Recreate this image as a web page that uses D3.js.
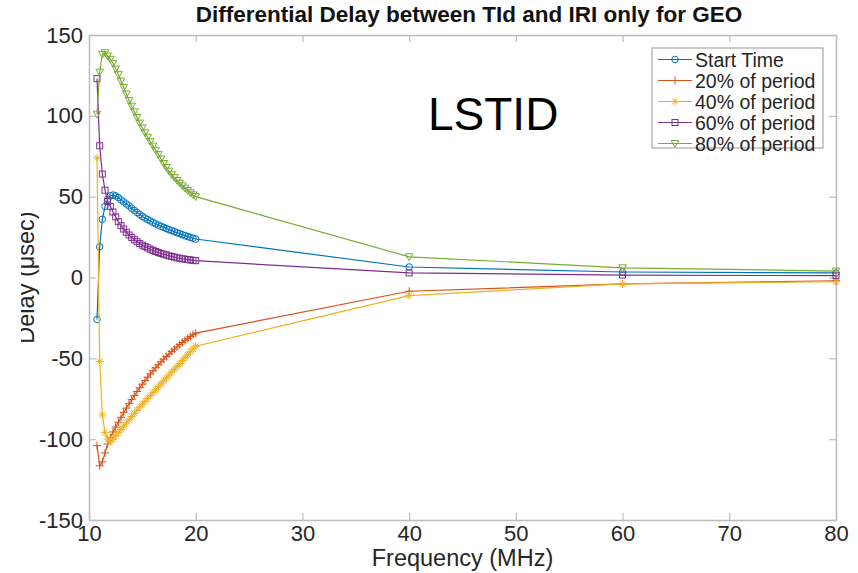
<!DOCTYPE html>
<html>
<head>
<meta charset="utf-8">
<script src="https://cdn.jsdelivr.net/npm/d3@7.9.0/dist/d3.min.js"></script>
<style>
  body { margin: 0; background: #fff; }
  svg { display: block; font-family: "Liberation Sans", Arial, Helvetica, sans-serif; }
</style>
</head>
<body>
<svg id="chart" width="858" height="573"></svg>
<script>
// frequencies (MHz) and delays (usec)
const freqs = [10.75, 11, 11.25, 11.5, 11.75, 12, 12.25, 12.5, 12.75, 13, 13.25, 13.5, 13.75, 14,
  14.25, 14.5, 14.75, 15, 15.25, 15.5, 15.75, 16, 16.25, 16.5, 16.75, 17, 17.25, 17.5, 17.75, 18,
  18.25, 18.5, 18.75, 19, 19.25, 19.5, 19.75, 20, 40, 60, 80];

const startTime = [-26, 19, 36, 44, 48.5, 50.5, 51, 50.5, 49.5, 48, 46.8, 45.5, 44.3, 42.8,
  41.5, 40.2, 39, 37.8, 36.8, 35.8, 35, 34, 33.2, 32.4, 31.6, 31, 30.3, 29.6, 29, 28.4,
  27.7, 27.1, 26.5, 25.9, 25.3, 24.8, 24.3, 23.8, 6.5, 3.4, 2.8];

const period20 = [-104, -116.5, -114, -108.5, -103, -99, -95.5, -92.5, -89.5, -86.5, -83.5, -80.8, -78, -75.5,
  -73, -70.5, -68.2, -66, -63.8, -61.7, -59.7, -57.7, -55.8, -54, -52.2, -50.5, -48.9, -47.3, -45.8, -44.3,
  -42.9, -41.5, -40.2, -38.9, -37.7, -36.5, -35.4, -34.4, -8.5, -4, -2];

const period40 = [74, -52, -85, -96, -100, -101.5, -100, -98, -96, -94, -92, -90, -88, -86,
  -84, -82, -80.2, -78.4, -76.6, -74.8, -73, -71.2, -69.4, -67.6, -65.8, -64, -62.2, -60.4, -58.6, -56.8,
  -55, -53.2, -51.4, -49.6, -47.8, -46, -44.2, -42.5, -11.2, -4, -2.6];

const period60 = [123, 81.5, 64, 54, 47, 44, 40.5, 37.5, 34.5, 32, 30, 28, 26.3, 24.8,
  23.4, 22.2, 21, 20, 19.1, 18.3, 17.5, 16.8, 16.1, 15.5, 14.9, 14.4, 13.9, 13.4, 13, 12.6,
  12.2, 11.9, 11.6, 11.3, 11.1, 10.9, 10.6, 10.4, 2.8, 1.5, 1.1];

const period80 = [101, 127, 138, 139, 137, 135, 132.5, 129, 125.5, 121.5, 117.5, 113.5, 109.5, 106,
  102.5, 99, 95.5, 92.5, 89.5, 86.8, 84, 81.3, 78.7, 76, 73.3, 70.5, 68, 65.8, 63.6, 61.8,
  60, 58.3, 56.7, 55.2, 53.8, 52.4, 51.1, 50, 12.8, 6, 4];

const seriesNames = ['Start Time', '20% of period', '40% of period', '60% of period', '80% of period'];
const seriesValues = [startTime, period20, period40, period60, period80];
const seriesColors = ['#0072BD', '#D95319', '#EDB120', '#7E2F8E', '#77AC30'];
const seriesMarkers = ['circle', 'plus', 'star', 'square', 'triangle'];

const xTicks = [10, 20, 30, 40, 50, 60, 70, 80];
const yTicks = [-150, -100, -50, 0, 50, 100, 150];

const svg = d3.select('#chart');
const plotLeft = 89, plotRight = 836, plotTop = 35, plotBottom = 520;

let x = d3.scaleLinear().domain([10, 80]).range([plotLeft, plotRight]);
let y = d3.scaleLinear().domain([-150, 150]).range([plotBottom, plotTop]);

const textColor = '#262626';
const frameColor = '#bdbdbd';

// axes with ticks pointing inward, mirrored on top/right like matlab's box on
function styleAxis(g) {
  g.select('.domain').attr('stroke', frameColor).attr('stroke-width', 1.5);
  g.selectAll('.tick line').attr('stroke', frameColor).attr('stroke-width', 1.2);
  g.selectAll('.tick text').attr('fill', textColor).attr('font-size', 22);
}

// plain hyphen for negatives, like the figure
const plainFmt = (d) => String(d);

svg.append('g')
  .attr('transform', `translate(0,${plotBottom})`)
  .call(d3.axisBottom(x).tickValues(xTicks).tickSizeInner(-7).tickSizeOuter(0).tickPadding(5).tickFormat(plainFmt))
  .call(styleAxis);

svg.append('g')
  .attr('transform', `translate(0,${plotTop})`)
  .call(d3.axisTop(x).tickValues(xTicks).tickSizeInner(-7).tickSizeOuter(0).tickFormat(''))
  .call(styleAxis);

svg.append('g')
  .attr('transform', `translate(${plotLeft},0)`)
  .call(d3.axisLeft(y).tickValues(yTicks).tickSizeInner(-7).tickSizeOuter(0).tickPadding(6).tickFormat(plainFmt))
  .call(styleAxis);

svg.append('g')
  .attr('transform', `translate(${plotRight},0)`)
  .call(d3.axisRight(y).tickValues(yTicks).tickSizeInner(-7).tickSizeOuter(0).tickFormat(''))
  .call(styleAxis);

// marker shapes
function drawMarker(g, type, cx, cy, color) {
  if (type === 'circle') {
    g.append('circle').attr('cx', cx).attr('cy', cy).attr('r', 3.3)
      .attr('fill', 'none').attr('stroke', color).attr('stroke-width', 1);
  } else if (type === 'square') {
    g.append('rect').attr('x', cx - 3).attr('y', cy - 3).attr('width', 6).attr('height', 6)
      .attr('fill', 'none').attr('stroke', color).attr('stroke-width', 1);
  } else if (type === 'triangle') {
    g.append('path').attr('d', `M${cx - 3.8},${cy - 3}L${cx + 3.8},${cy - 3}L${cx},${cy + 3.8}Z`)
      .attr('fill', 'none').attr('stroke', color).attr('stroke-width', 1);
  } else {
    let d = `M${cx - 4},${cy}H${cx + 4}M${cx},${cy - 4}V${cy + 4}`;
    if (type === 'star') d += `M${cx - 3},${cy - 3}L${cx + 3},${cy + 3}M${cx - 3},${cy + 3}L${cx + 3},${cy - 3}`;
    g.append('path').attr('d', d).attr('fill', 'none').attr('stroke', color).attr('stroke-width', 1);
  }
}

let line = d3.line().x((d) => x(d[0])).y((d) => y(d[1]));

seriesValues.forEach((vals, idx) => {
  let pts = freqs.map((f, i) => [f, vals[i]]);
  let g = svg.append('g');
  g.append('path')
    .attr('d', line(pts))
    .attr('fill', 'none')
    .attr('stroke', seriesColors[idx])
    .attr('stroke-width', 1.2);
  pts.forEach((p) => drawMarker(g, seriesMarkers[idx], x(p[0]), y(p[1]), seriesColors[idx]));
});

// title and axis labels
svg.append('text')
  .attr('x', 469).attr('y', 22)
  .attr('text-anchor', 'middle')
  .attr('font-size', 22.5).attr('font-weight', 'bold').attr('fill', '#111')
  .text('Differential Delay between TId and IRI only for GEO');

svg.append('text')
  .attr('x', (plotLeft + plotRight) / 2).attr('y', 566)
  .attr('text-anchor', 'middle')
  .attr('font-size', 23.5).attr('fill', textColor)
  .text('Frequency (MHz)');

// the y label is cut at the left edge in the figure
svg.append('clipPath').attr('id', 'ylabClip')
  .append('rect').attr('x', 21).attr('y', 0).attr('width', 100).attr('height', 573);

svg.append('g')
  .attr('clip-path', 'url(#ylabClip)')
  .append('text')
  .attr('transform', `translate(34,${(plotTop + plotBottom) / 2}) rotate(-90)`)
  .attr('text-anchor', 'middle')
  .attr('font-size', 23.5).attr('fill', textColor)
  .text('Delay (\u03bcsec)');

svg.append('text')
  .attr('x', 428).attr('y', 130)
  .attr('font-size', 46).attr('fill', '#000')
  .text('LSTID');

// legend
let legend = svg.append('g');
legend.append('rect')
  .attr('x', 652).attr('y', 48).attr('width', 171).attr('height', 100)
  .attr('fill', '#fff').attr('stroke', '#a8a8a8').attr('stroke-width', 1.2);

seriesNames.forEach((name, idx) => {
  let ly = 59.5 + idx * 21;
  legend.append('line')
    .attr('x1', 658).attr('x2', 692).attr('y1', ly).attr('y2', ly)
    .attr('stroke', seriesColors[idx]).attr('stroke-width', 1.2);
  drawMarker(legend, seriesMarkers[idx], 675, ly, seriesColors[idx]);
  legend.append('text')
    .attr('x', 695).attr('y', ly + 7)
    .attr('font-size', 19.5).attr('fill', textColor)
    .text(name);
});
</script>
</body>
</html>
